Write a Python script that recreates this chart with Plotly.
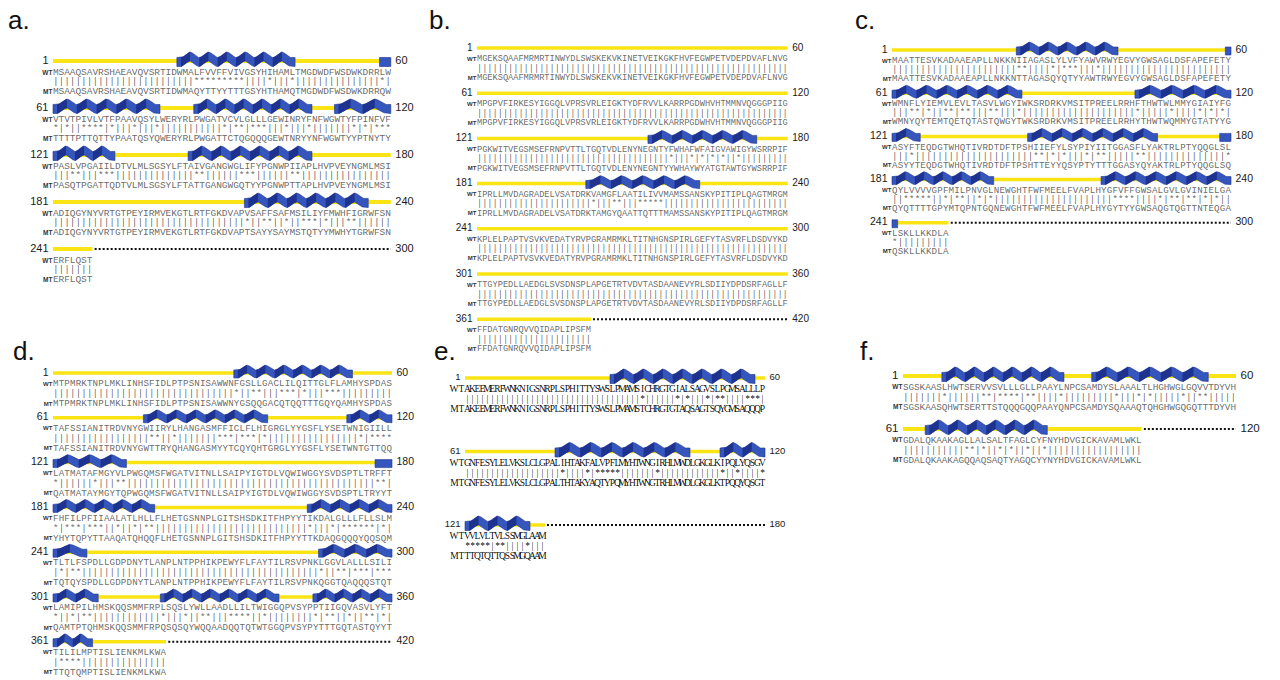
import numpy as np
import plotly.graph_objects as go

W, H = 1280, 680

# ---- alignment data (rows of 60 residues) -------------------------------
A_WT = [
    "MSAAQSAVRSHAEAVQVSRTIDWMALFVVFFVIVGSYHIHAMLTMGDWDFWSDWKDRRLW",
    "VTVTPIVLVTFPAAVQSYLWERYRLPWGATVCVLGLLLGEWINRYFNFWGWTYFPINFVF",
    "PASLVPGAIILDTVLMLSGSYLFTAIVGANGWGLIFYPGNWPIIAPLHVPVEYNGMLMSI",
    "ADIQGYNYVRTGTPEYIRMVEKGTLRTFGKDVAPVSAFFSAFMSILIYFMWHFIGRWFSN",
    "ERFLQST",
]
A_MT = [
    "MSAAQSAVRSHAEAVQVSRTIDWMAQYTTYYTTTGSYHTHAMQTMGDWDFWSDWKDRRQW",
    "TTTTPTTQTTYPAATQSYQWERYRLPWGATTCTQGQQQGEWTNRYYNFWGWTYYPTNYTY",
    "PASQTPGATTQDTVLMLSGSYLFTATTGANGWGQTYYPGNWPTTAPLHVPVEYNGMLMSI",
    "ADIQGYNYVRTGTPEYIRMVEKGTLRTFGKDVAPTSAYYSAYMSTQTYYMWHYTGRWFSN",
    "ERFLQST",
]
A_HELIX = [(23, 43), (59, 60), (61, 79), (86, 106), (111, 120),
           (121, 131), (145, 166), (215, 236)]

B_WT = [
    "MGEKSQAAFMRMRTINWYDLSWSKEKVKINETVEIKGKFHVFEGWPETVDEPDVAFLNVG",
    "MPGPVFIRKESYIGGQLVPRSVRLEIGKTYDFRVVLKARRPGDWHVHTMMNVQGGGPIIG",
    "PGKWITVEGSMSEFRNPVTTLTGQTVDLENYNEGNTYFWHAFWFAIGVAWIGYWSRRPIF",
    "IPRLLMVDAGRADELVSATDRKVAMGFLAATILIVVMAMSSANSKYPITIPLQAGTMRGM",
    "KPLELPAPTVSVKVEDATYRVPGRAMRMKLTITNHGNSPIRLGEFYTASVRFLDSDVYKD",
    "TTGYPEDLLAEDGLSVSDNSPLAPGETRTVDVTASDAANEVYRLSDIIYDPDSRFAGLLF",
    "FFDATGNRQVVQIDAPLIPSFM",
]
B_MT = [
    "MGEKSQAAFMRMRTINWYDLSWSKEKVKINETVEIKGKFHVFEGWPETVDEPDVAFLNVG",
    "MPGPVFIRKESYIGGQLVPRSVRLEIGKTYDFRVVLKARRPGDWHVHTMMNVQGGGPIIG",
    "PGKWITVEGSMSEFRNPVTTLTGQTVDLENYNEGNTYYWHAYWYATGTAWTGYWSRRPIF",
    "IPRLLMVDAGRADELVSATDRKTAMGYQAATTQTTTMAMSSANSKYPITIPLQAGTMRGM",
    "KPLELPAPTVSVKVEDATYRVPGRAMRMKLTITNHGNSPIRLGEFYTASVRFLDSDVYKD",
    "TTGYPEDLLAEDGLSVSDNSPLAPGETRTVDVTASDAANEVYRLSDIIYDPDSRFAGLLF",
    "FFDATGNRQVVQIDAPLIPSFM",
]
B_HELIX = [(154, 174), (202, 223)]

C_WT = [
    "MAATTESVKADAAEAPLLNKKNIIAGASLYLVFYAWVRWYEGVYGWSAGLDSFAPEFETY",
    "WMNFLYIEMVLEVLTASVLWGYIWKSRDRKVMSITPREELRRHFTHWTWLMMYGIAIYFG",
    "ASYFTEQDGTWHQTIVRDTDFTPSHIIEFYLSYPIYIITGGASFLYAKTRLPTYQQGLSL",
    "QYLVVVVGPFMILPNVGLNEWGHTFWFMEELFVAPLHYGFVFFGWSALGVLGVINIELGA",
    "LSKLLKKDLA",
]
C_MT = [
    "MAATTESVKADAAEAPLLNKKNTTAGASQYQTYYAWTRWYEGVYGWSAGLDSFAPEFETY",
    "WMNYQYTEMTQETQTASTQWGYTWKSRDRKVMSITPREELRRHYTHWTWQMMYGTATYYG",
    "ASYYTEQDGTWHQTIVRDTDFTPSHTTEYYQSYPTYTTTGGASYQYAKTRLPTYQQGLSQ",
    "QYQTTTTGPYMTQPNTGQNEWGHTFWFMEELFVAPLHYGYTYYGWSAQGTQGTTNTEQGA",
    "QSKLLKKDLA",
]
C_HELIX = [(23, 40), (60, 60), (61, 83), (104, 120), (121, 125), (145, 167),
           (179, 180), (181, 198), (218, 240), (241, 241)]

D_WT = [
    "MTPMRKTNPLMKLINHSFIDLPTPSNISAWWNFGSLLGACLILQITTGLFLAMHYSPDAS",
    "TAFSSIANITRDVNYGWIIRYLHANGASMFFICLFLHIGRGLYYGSFLYSETWNIGIILL",
    "LATMATAFMGYVLPWGQMSFWGATVITNLLSAIPYIGTDLVQWIWGGYSVDSPTLTRFFT",
    "FHFILPFIIAALATLHLLFLHETGSNNPLGITSHSDKITFHPYYTIKDALGLLLFLLSLM",
    "TLTLFSPDLLGDPDNYTLANPLNTPPHIKPEWYFLFAYTILRSVPNKLGGVLALLLSILI",
    "LAMIPILHMSKQQSMMFRPLSQSLYWLLAADLLILTWIGGQPVSYPPTIIGQVASVLYFT",
    "TILILMPTISLIENKMLKWA",
]
D_MT = [
    "MTPMRKTNPLMKLINHSFIDLPTPSNISAWWNYGSQQGACQTQQTTTGQYQAMHYSPDAS",
    "TAFSSIANITRDVNYGWTTRYQHANGASMYYTCQYQHTGRGLYYGSFLYSETWNTGTTQQ",
    "QATMATAYMGYTQPWGQMSFWGATVITNLLSAIPYIGTDLVQWIWGGYSVDSPTLTRYYT",
    "YHYTQPYTTAAQATQHQQFLHETGSNNPLGITSHSDKITFHPYYTTKDAQGQQQYQQSQM",
    "TQTQYSPDLLGDPDNYTLANPLNTPPHIKPEWYFLFAYTILRSVPNKQGGTQAQQQSTQT",
    "QAMTPTQHMSKQQSMMFRPQSQSQYWQQAADQQTQTWTGGQPVSYPYTTTGQTASTQYYT",
    "TTQTQMPTISLIENKMLKWA",
]
D_HELIX = [(33, 53), (77, 98), (113, 120), (121, 133), (178, 180), (181, 198),
           (226, 240), (241, 246), (288, 300), (301, 308), (320, 340),
           (347, 360), (361, 367)]

E_WT = [
    "AKEEMERFWNKNIGSNRPLSPHITTYSWSLPMAMSICHRGTGIALSAGVSLPGMSALLLP",
    "GNFESYLELVKSLCLGPALIHTAKFALVPFLMYHTWNGIRHLMWDLGKGLKIPQLYQSGV",
    "VVLVLTVLSSMGLAAM",
]
E_MT = [
    "AKEEMERFWNKNIGSNRPLSPHITTYSWSLPMAMSTCHRGTGTAQSAGTSQYGMSAQQQP",
    "GNFESYLELVKSLCLGPALTHTAKYAQTYPQMYHTWNGTRHLMWDLGKGLKTPQQYQSGT",
    "TTQTQTTQSSMGQAAM",
]
E_HELIX = [(30, 58), (79, 105), (112, 120), (121, 133)]

F_WT = [
    "SGSKAASLHWTSERVVSVLLLGLLPAAYLNPCSAMDYSLAAALTLHGHWGLGQVVTDYVH",
    "GDALQKAAKAGLLALSALTFAGLCYFNYHDVGICKAVAMLWKL",
]
F_MT = [
    "SGSKAASQHWTSERTTSTQQQGQQPAAYQNPCSAMDYSQAAAQTQHGHWGQGQTTTDYVH",
    "GDALQKAAKAGQQAQSAQTYAGQCYYNYHDVGICKAVAMLWKL",
]
F_HELIX = [(8, 29), (35, 55), (65, 86)]

# ---- panel placement and styling (pixels) -------------------------------
MONO = "Liberation Mono"
SANS = "Liberation Sans"
SERIF = "Liberation Serif"
GREY = "rgba(100,100,100,0.96)"
INK = "rgba(0,0,0,0.96)"

PANELS = [
    dict(label="a.", wt=A_WT, mt=A_MT, helix=A_HELIX, lab=(11, 12),
         x0=45, ppr=5.63, y0=53, dy=47, offs=(12, 21, 31),
         seq=(MONO, 9.5, GREY), num=11, tag=(SANS, 6.5, "#333"), lw=4, band=9),
    dict(label="b.", wt=B_WT, mt=B_MT, helix=B_HELIX, lab=(432, 12),
         x0=469, ppr=5.18, y0=40, dy=45.2, offs=(11, 20.5, 30),
         seq=(MONO, 8.7, GREY), num=10, tag=(SANS, 6, "#333"), lw=3.5, band=8),
    dict(label="c.", wt=C_WT, mt=C_MT, helix=C_HELIX, lab=(857, 12),
         x0=884, ppr=5.65, y0=42, dy=43.2, offs=(11, 20, 29),
         seq=(MONO, 9.2, GREY), num=10.5, tag=(SANS, 6, "#333"), lw=3.5, band=8),
    dict(label="d.", wt=D_WT, mt=D_MT, helix=D_HELIX, lab=(16, 343),
         x0=45, ppr=5.65, y0=365, dy=44.8, offs=(11, 21, 31),
         seq=(MONO, 9.2, GREY), num=10.5, tag=(SANS, 6, "#333"), lw=3.5, band=8),
    dict(label="e.", wt=E_WT, mt=E_MT, helix=E_HELIX, lab=(437, 343),
         x0=457, ppr=5.0, y0=370, dy=73.5, offs=(12, 22, 32),
         seq=(SERIF, 9.5, INK), num=9.5, tag=(SERIF, 9.5, INK), lw=3.5, band=9),
    dict(label="f.", wt=F_WT, mt=F_MT, helix=F_HELIX, lab=(859, 343),
         x0=895, ppr=5.55, y0=368, dy=53, offs=(11.5, 21.5, 31.5),
         seq=(MONO, 9.4, GREY), num=11.5, tag=(SANS, 6.5, "#333"), lw=4, band=9),
]

YELLOW = "#fbe414"
BLUE = "#3556bd"
NAVY = "#1e3390"


def ribbon(xa, xb, row, p):
    """Outline of a helix ribbon between residue edges xa..xb (data units)."""
    ppr, dy, h = p["ppr"], p["dy"], p["band"]
    amp, per, flat = h * 0.6, 20.0, 4.0
    length = (xb - xa) * ppr
    t = np.linspace(0, length, max(16, int(length * 1.5)))
    w = np.zeros_like(t)
    inner = length - 2 * flat
    dark = []
    if inner > per * 0.6:
        nper = max(1, round(inner / per))
        pe = inner / nper
        m = (t > flat) & (t < length - flat)
        w[m] = 0.5 * (1 - np.cos(2 * np.pi * (t[m] - flat) / pe))
        for k in range(nper):
            ts = np.linspace(flat + k * pe, flat + (k + 0.5) * pe, 12)
            ws = 0.5 * (1 - np.cos(2 * np.pi * (ts - flat) / pe))
            dark.append((ts, ws))
    base = 1.0

    def outline(ts, ws):
        c = base - amp * ws
        xs = np.concatenate([ts, ts[::-1]]) / ppr + xa
        ys = np.concatenate([c - h / 2, (c + h / 2)[::-1]]) / dy + row
        return list(xs) + [xs[0], None], list(ys) + [ys[0], None]

    return outline(t, w), [outline(ts, ws) for ts, ws in dark]


def panel_traces(p, ax):
    xa, ya = ("x", "y") if ax == 1 else (f"x{ax}", f"y{ax}")
    dy, ppr = p["dy"], p["ppr"]
    o_wt, o_mm, o_mt = (o / dy for o in p["offs"])
    nrows = len(p["wt"])
    traces = []
    common = dict(xaxis=xa, yaxis=ya, hoverinfo="skip", showlegend=False)

    # coil line and dotted tail
    lx, ly, dxs, dys = [], [], [], []
    for r, seq in enumerate(p["wt"]):
        lx += [0.5, len(seq) + 0.5, None]
        ly += [r, r, None]
        if len(seq) < 60:
            dxs += [len(seq) + 0.9, 60.5, None]
            dys += [r, r, None]
    traces.append(go.Scatter(x=lx, y=ly, mode="lines",
                             line=dict(color=YELLOW, width=p["lw"]), **common))
    if dxs:
        traces.append(go.Scatter(x=dxs, y=dys, mode="lines",
                                 line=dict(color="#111", width=2, dash="2px,2px"), **common))

    # helices
    hx, hy, kx, ky = [], [], [], []
    for s, e in p["helix"]:
        r = (s - 1) // 60
        (bx, by), darks = ribbon(s - 60 * r - 0.5, e - 60 * r + 0.5, r, p)
        hx += bx
        hy += by
        for dx_, dy_ in darks:
            kx += dx_
            ky += dy_
    traces.append(go.Scatter(x=hx, y=hy, mode="lines", fill="toself", fillcolor=BLUE,
                             line=dict(width=0.6, color=NAVY), **common))
    if kx:
        traces.append(go.Scatter(x=kx, y=ky, mode="lines", fill="toself", fillcolor=NAVY,
                                 line=dict(width=0), **common))

    # residues and match line
    sx, sy, st = [], [], []
    for r, (wt, mt) in enumerate(zip(p["wt"], p["mt"])):
        for i, (a, b) in enumerate(zip(wt, mt)):
            sx += [i + 1] * 3
            sy += [r + o_wt, r + o_mm, r + o_mt]
            st += [a, "|" if a == b else "*", b]
    fam, size, col = p["seq"]
    traces.append(go.Scatter(x=sx, y=sy, text=st, mode="text",
                             textfont=dict(family=fam, size=size, color=col), **common))

    # WT / MT tags
    tfam, tsize, tcol = p["tag"]
    tags_y = [r + o for r in range(nrows) for o in (o_wt, o_mt)]
    traces.append(go.Scatter(x=[0.5 - 0.6 / ppr] * len(tags_y), y=tags_y,
                             text=["WT", "MT"] * nrows, mode="text", textposition="middle left",
                             textfont=dict(family=tfam, size=tsize, color=tcol,
                                           weight="bold" if tfam == SANS else "normal"),
                             **common))

    # residue numbers
    rows = list(range(nrows))
    traces.append(go.Scatter(x=[0.5 - 4.5 / ppr] * nrows, y=rows,
                             text=[str(60 * r + 1) for r in rows], mode="text",
                             textposition="middle left",
                             textfont=dict(family=SANS, size=p["num"], color="#1a1a1a"), **common))
    traces.append(go.Scatter(x=[60.5 + 4.5 / ppr] * nrows, y=rows,
                             text=[str(60 * r + 60) for r in rows], mode="text",
                             textposition="middle right",
                             textfont=dict(family=SANS, size=p["num"], color="#1a1a1a"), **common))
    return traces


fig = go.Figure()
layout = dict(width=W, height=H, margin=dict(l=0, r=0, t=0, b=0),
              paper_bgcolor="white", plot_bgcolor="rgba(0,0,0,0)", showlegend=False)
annotations = []
for k, p in enumerate(PANELS, start=1):
    for tr in panel_traces(p, k):
        fig.add_trace(tr)
    sx = "" if k == 1 else str(k)
    layout[f"xaxis{sx}"] = dict(domain=[0, 1], visible=False, fixedrange=True,
                                range=[0.5 - p["x0"] / p["ppr"], 0.5 + (W - p["x0"]) / p["ppr"]],
                                anchor=f"y{sx}")
    layout[f"yaxis{sx}"] = dict(domain=[0, 1], visible=False, fixedrange=True,
                                range=[(H - p["y0"]) / p["dy"], -p["y0"] / p["dy"]],
                                anchor=f"x{sx}")
    annotations.append(dict(text=p["label"], x=p["lab"][0] / W, y=1 - p["lab"][1] / H,
                            xref="paper", yref="paper", showarrow=False,
                            xanchor="center", yanchor="middle",
                            font=dict(family=SANS, size=26, color="#111")))
layout["annotations"] = annotations
fig.update_layout(**layout)
fig.write_html("out.html")
